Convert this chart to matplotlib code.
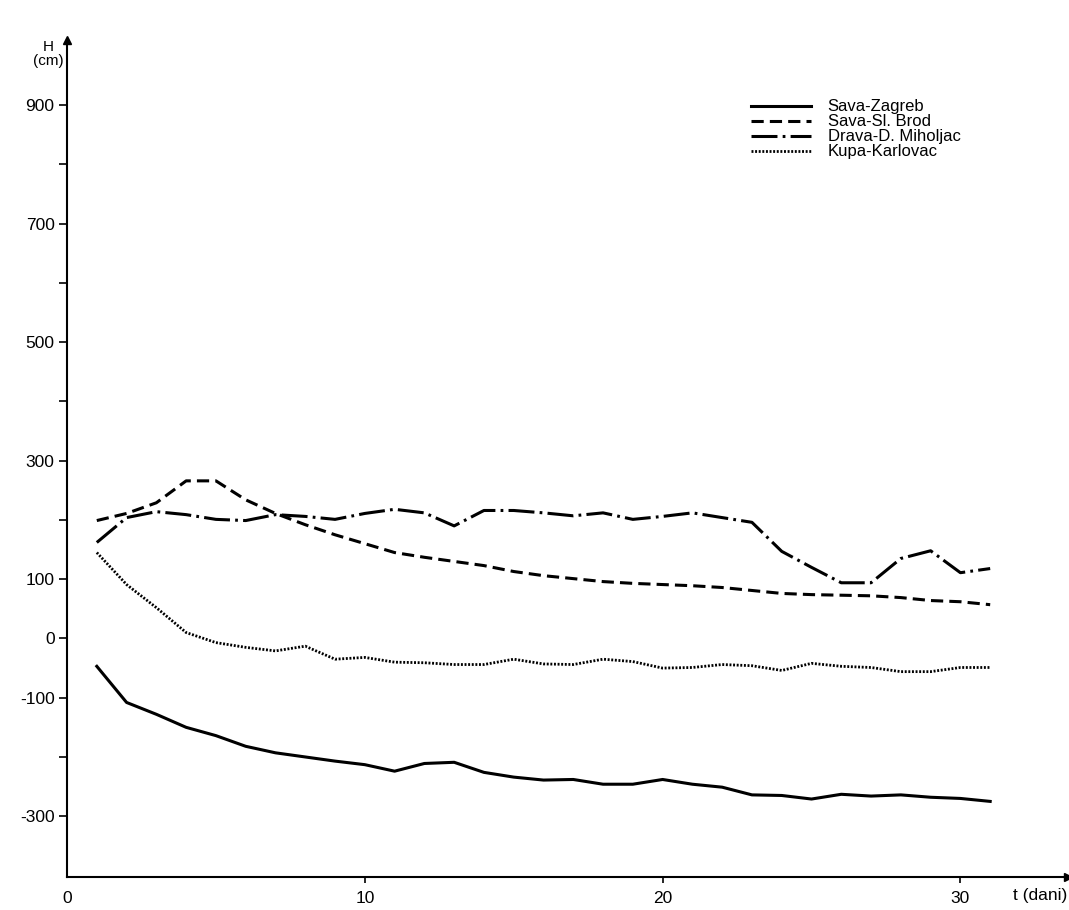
import numpy as np
import matplotlib.pyplot as plt

plt.rcParams['font.family'] = ['Liberation Sans', 'DejaVu Sans']

#%% data: water levels H (cm) per day
dani = np.arange(1, 32)

sava_zagreb = [-47, -108, -128, -150, -164, -182, -193, -200, -207, -213,
               -224, -211, -209, -226, -234, -239, -238, -246, -246, -238,
               -246, -251, -264, -265, -271, -263, -266, -264, -268, -270, -275]

sava_brod = [199, 211, 229, 266, 266, 234, 211, 192, 175, 160,
             145, 137, 130, 123, 113, 106, 101, 96, 93, 91,
             89, 86, 81, 76, 74, 73, 72, 69, 64, 62, 57]

drava = [162, 204, 214, 209, 201, 199, 209, 206, 201, 211,
         218, 212, 190, 216, 216, 212, 207, 212, 201, 206,
         212, 204, 196, 147, 120, 94, 94, 135, 148, 111, 118]

kupa = [145, 91, 52, 10, -7, -15, -21, -13, -35, -32,
        -40, -41, -44, -44, -35, -43, -44, -35, -39, -50,
        -49, -44, -46, -54, -42, -47, -49, -56, -56, -49, -49]

labels = ["Sava-Zagreb", "Sava-Sl. Brod", "Drava-D. Miholjac", "Kupa-Karlovac"]

#%%
fig = plt.figure(figsize=(10.69, 9.10), dpi=100)
ax = fig.add_axes([0.0627, 0.036, 0.936, 0.92])

ax.plot(dani, sava_zagreb, color='k', lw=2.2, ls='-', label=labels[0])
ax.plot(dani, sava_brod, color='k', lw=2.2, ls=(0, (4.0, 2.0)), label=labels[1])
ax.plot(dani, drava, color='k', lw=2.2, ls=(0, (8.5, 1.7, 0.9, 1.7)), label=labels[2])
ax.plot(dani, kupa, color='k', lw=2.0, ls=(0, (0.7, 0.6)), label=labels[3])

ax.set_xlim(0, 33.6)
ax.set_ylim(-403, 1010)

ax.spines['top'].set_visible(False)
ax.spines['right'].set_visible(False)
ax.spines['left'].set_linewidth(1.5)
ax.spines['bottom'].set_linewidth(1.5)

# arrows at the axis ends
ax.plot(1, 0, '>k', markersize=6, transform=ax.transAxes, clip_on=False)
ax.plot(0, 1, '^k', markersize=6, transform=ax.transAxes, clip_on=False)

ax.set_xticks([0, 10, 20, 30])
ax.set_xticklabels(['0', '10', '20', '30'])
ax.xaxis.get_major_ticks()[0].tick1line.set_visible(False)
ax.tick_params(axis='x', direction='out', length=4, width=1.2, pad=6, labelsize=12.5)

yt = np.arange(-300, 1000, 100)
ylab = []
for v in yt:
    if v in (900, 700, 500, 300, 100, 0, -100, -300):
        ylab.append(str(v))
    else:
        ylab.append('')
ax.set_yticks(yt)
ax.set_yticklabels(ylab)
ax.tick_params(axis='y', direction='out', length=6, width=1.2, pad=3, labelsize=12.5)

ax.text(-0.019, 1.0, "H\n(cm)", transform=ax.transAxes, ha='center', va='top',
        fontsize=11, linespacing=1.0)
ax.text(1.0, -0.013, "t (dani)", transform=ax.transAxes, ha='right', va='top',
        fontsize=12.5)

ax.legend(loc='upper left', bbox_to_anchor=(0.677, 0.937), frameon=False,
          handlelength=3.6, handletextpad=1.0, labelspacing=0.0, fontsize=12,
          borderaxespad=0)

plt.savefig("out.png", dpi=100)
plt.close(fig)
